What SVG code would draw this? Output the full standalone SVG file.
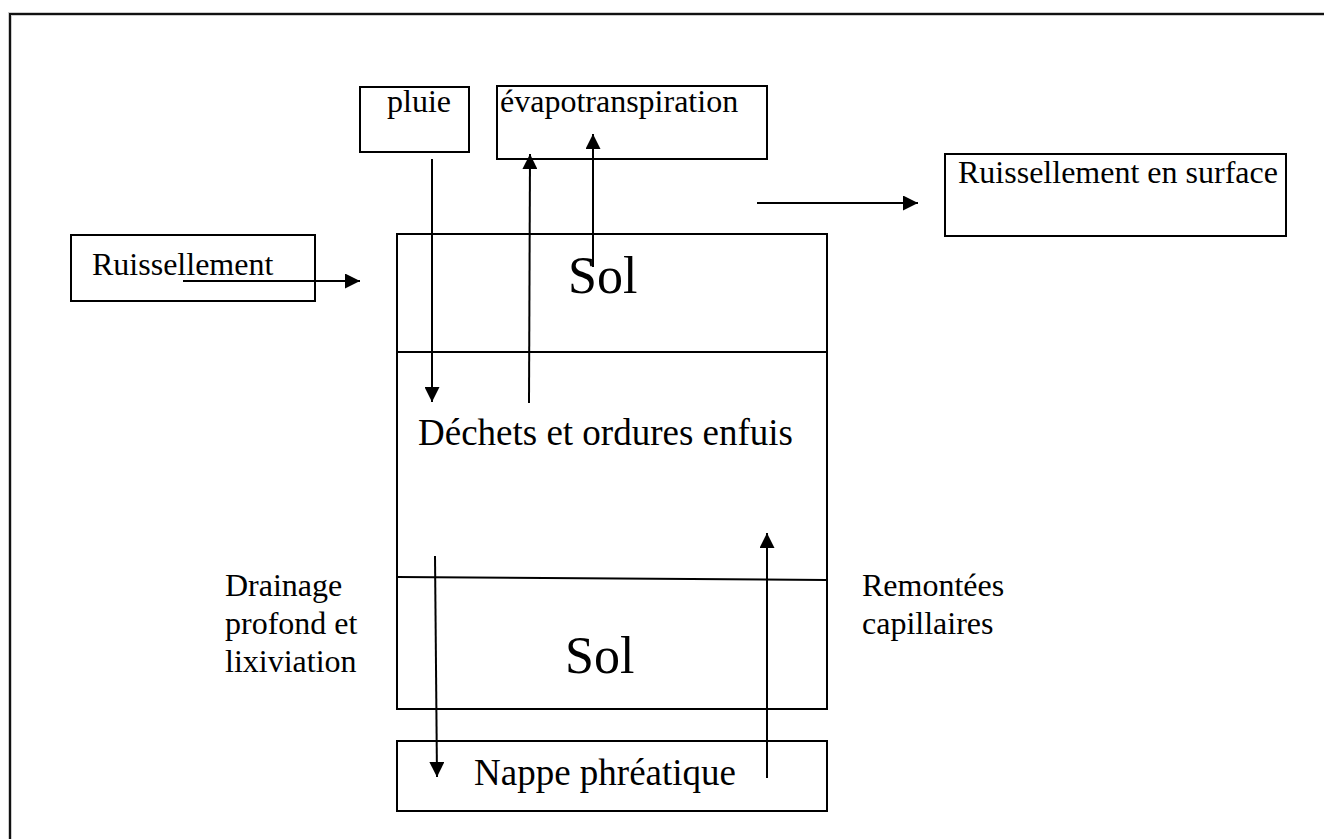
<svg xmlns="http://www.w3.org/2000/svg" width="1324" height="839" viewBox="0 0 1324 839">
<style>
.box{fill:none;stroke:#000;stroke-width:2}
.ln{fill:none;stroke:#000;stroke-width:2}
.t{font-family:"Liberation Serif","Times New Roman",serif;fill:#000}
.s{font-size:32px}
.m{font-size:37px}
.l{font-size:52px}
</style>
<defs>
<marker id="a" viewBox="0 0 15 15" refX="15" refY="7.5" markerWidth="15" markerHeight="15" markerUnits="userSpaceOnUse" orient="auto">
<path d="M0,0 L15,7.5 L0,15 Z" fill="#000"/>
</marker>
</defs>
<rect width="1324" height="839" fill="#fff"/>
<g id="frame">
<path d="M10,839 V14 H1324" fill="none" stroke="#ccc" stroke-width="4"/>
<path d="M10,839 V14 H1324" fill="none" stroke="#111" stroke-width="2"/>
</g>
<g id="pluie">
<rect class="box" x="360" y="87" width="109" height="65"/>
<text class="t s" x="387" y="112">pluie</text>
</g>
<g id="evapotranspiration">
<rect class="box" x="497" y="86" width="270" height="73"/>
<text class="t s" x="500" y="112">évapotranspiration</text>
</g>
<g id="ruissellement-surface">
<rect class="box" x="945" y="154" width="341" height="82"/>
<text class="t s" x="958" y="183">Ruissellement en surface</text>
</g>
<g id="ruissellement">
<rect class="box" x="71" y="235" width="244" height="66"/>
<text class="t s" x="92" y="275">Ruissellement</text>
</g>
<g id="colonne">
<rect class="box" x="397" y="234" width="430" height="475"/>
<line class="ln" x1="397" y1="352" x2="827" y2="352"/>
<line class="ln" x1="397" y1="577" x2="827" y2="580"/>
<text class="t l" x="568" y="293">Sol</text>
<text class="t m" x="418" y="445">Déchets et ordures enfuis</text>
<text class="t l" x="565" y="673">Sol</text>
</g>
<g id="nappe">
<rect class="box" x="397" y="741" width="430" height="70"/>
<text class="t m" x="474" y="785">Nappe phréatique</text>
</g>
<g id="drainage-label">
<text class="t s" x="225" y="596">Drainage</text>
<text class="t s" x="225" y="634">profond et</text>
<text class="t s" x="225" y="672">lixiviation</text>
</g>
<g id="remontees-label">
<text class="t s" x="862" y="596">Remontées</text>
<text class="t s" x="862" y="634">capillaires</text>
</g>
<g id="connectors">
<line class="ln" x1="432" y1="159" x2="432" y2="402" marker-end="url(#a)"/>
<line class="ln" x1="529" y1="403" x2="530" y2="154" marker-end="url(#a)"/>
<line class="ln" x1="593" y1="267" x2="593" y2="134" marker-end="url(#a)"/>
<line class="ln" x1="183" y1="281" x2="360" y2="281" marker-end="url(#a)"/>
<line class="ln" x1="757" y1="203" x2="918" y2="203" marker-end="url(#a)"/>
<line class="ln" x1="435" y1="556" x2="437" y2="777" marker-end="url(#a)"/>
<line class="ln" x1="767" y1="778" x2="767" y2="533" marker-end="url(#a)"/>
</g>
</svg>
